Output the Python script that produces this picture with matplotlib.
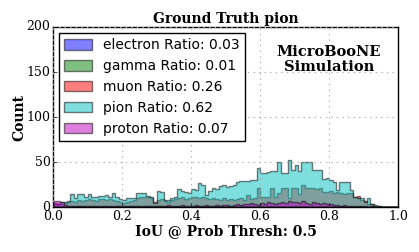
import numpy as np
import matplotlib
matplotlib.use("Agg")
import matplotlib.pyplot as plt

plt.style.use("classic")

bin_edges = np.linspace(0.0, 1.0, 101)

pion = [4, 4, 6, 6, 7, 15, 10, 15, 15, 12,
        15, 11, 11, 13, 13, 14, 12, 16, 12, 9,
        8, 10, 10, 10, 16, 16, 16, 13, 12, 5,
        18, 17, 8, 8, 10, 12, 20, 18, 17, 16,
        20, 19, 27, 25, 14, 18, 21, 20, 24, 25,
        23, 24, 25, 28, 29, 29, 29, 30, 30, 44,
        38, 38, 39, 40, 40, 50, 38, 38, 52, 41,
        47, 40, 50, 50, 50, 41, 41, 42, 32, 33,
        30, 28, 19, 28, 28, 28, 19, 12, 10, 10,
        6, 10, 4, 3, 1, 0, 0, 0, 0, 0]

muon = [5, 4, 4, 5, 6, 7, 6, 8, 7, 8,
        9, 8, 7, 9, 9, 8, 9, 8, 7, 6,
        5, 6, 7, 8, 10, 11, 12, 11, 10, 6,
        8, 9, 7, 6, 8, 9, 10, 11, 9, 10,
        11, 12, 10, 11, 10, 9, 10, 9, 8, 10,
        8, 9, 8, 9, 10, 8, 14, 9, 10, 21,
        12, 12, 12, 21, 12, 16, 21, 21, 10, 21,
        21, 15, 25, 22, 21, 21, 20, 21, 17, 17,
        18, 16, 17, 16, 15, 16, 16, 12, 13, 8,
        7, 4, 4, 2, 1, 0, 0, 0, 0, 0]

proton = [7, 7, 6, 3, 2, 2, 2, 1, 2, 2,
          2, 1, 2, 1, 2, 2, 1, 2, 1, 2,
          1, 2, 1, 2, 1, 2, 2, 1, 2, 1,
          2, 1, 2, 3, 1, 2, 2, 3, 2, 2,
          2, 3, 2, 2, 3, 2, 2, 3, 2, 3,
          3, 2, 3, 4, 3, 4, 4, 5, 4, 3,
          5, 4, 6, 5, 4, 5, 6, 5, 7, 6,
          6, 5, 7, 5, 4, 6, 5, 4, 5, 4,
          4, 3, 3, 2, 3, 2, 2, 1, 1, 1,
          1, 0, 1, 0, 0, 0, 0, 0, 0, 0]

electron = [2, 2, 1, 1, 1, 2, 1, 1, 1, 1,
            1, 1, 1, 0, 1, 1, 1, 0, 1, 1,
            1, 0, 1, 1, 1, 0, 1, 1, 1, 0,
            1, 1, 1, 1, 0, 1, 1, 1, 1, 1,
            1, 1, 1, 1, 1, 1, 2, 1, 1, 1,
            1, 1, 1, 2, 1, 1, 1, 2, 1, 1,
            2, 1, 1, 2, 1, 1, 2, 1, 1, 2,
            1, 1, 2, 1, 1, 1, 1, 1, 1, 1,
            1, 1, 1, 1, 1, 0, 1, 0, 0, 0,
            0, 0, 0, 0, 0, 0, 0, 0, 0, 0]

gamma = [1, 0, 0, 1, 0, 0, 0, 1, 0, 0,
         0, 1, 0, 0, 0, 1, 0, 0, 1, 0,
         0, 0, 1, 0, 0, 0, 1, 0, 0, 0,
         1, 0, 0, 0, 1, 0, 0, 1, 0, 0,
         0, 1, 0, 0, 1, 0, 0, 0, 1, 0,
         0, 1, 0, 0, 1, 0, 0, 1, 0, 0,
         1, 0, 0, 1, 0, 0, 1, 0, 0, 1,
         0, 0, 1, 0, 0, 1, 0, 0, 0, 1,
         0, 0, 1, 0, 0, 0, 0, 0, 0, 0,
         0, 0, 0, 0, 0, 0, 0, 0, 0, 0]

labels = ["electron Ratio: 0.03", "gamma Ratio: 0.01", "muon Ratio: 0.26",
          "pion Ratio: 0.62", "proton Ratio: 0.07"]
series = [electron, gamma, muon, pion, proton]
colors = ["b", "g", "r", "c", "m"]

fig = plt.figure(figsize=(4.19, 2.52), dpi=100, facecolor="white")
ax = fig.add_axes([0.127, 0.177, 0.823, 0.716])

centers = 0.5 * (bin_edges[:-1] + bin_edges[1:])
for vals, lab, col in zip(series, labels, colors):
    ax.hist(centers, bins=bin_edges, weights=vals, histtype="stepfilled",
            alpha=0.5, color=col, edgecolor="black", linewidth=1.0, label=lab)

ax.set_xlim(0.0, 1.0)
ax.set_ylim(0, 200)
ax.set_xticks([0.0, 0.2, 0.4, 0.6, 0.8, 1.0])
ax.set_yticks([0, 50, 100, 150, 200])
ax.grid(True, color="#b0b0b0", linestyle=":", linewidth=0.8)
for t in ax.get_xticklabels() + ax.get_yticklabels():
    t.set_family("DejaVu Serif")
    t.set_fontsize(9)
ax.tick_params(axis="both", which="major", pad=2, length=3)
ax.tick_params(top=False, right=False)

ax.set_title("Ground Truth pion", family="DejaVu Serif", fontweight="bold",
             fontsize=10, pad=3)
ax.set_xlabel("IoU @ Prob Thresh: 0.5", family="DejaVu Serif",
              fontweight="bold", fontsize=10, labelpad=1)
ax.set_ylabel("Count", family="DejaVu Serif", fontweight="bold", fontsize=10,
              labelpad=0)

ax.text(0.80, 0.82, "MicroBooNE\nSimulation", transform=ax.transAxes,
        ha="center", va="center", family="DejaVu Serif", fontweight="bold",
        fontsize=10.5, linespacing=1.1)

leg = ax.legend(loc="upper left", prop={"family": "DejaVu Sans", "size": 10},
                handlelength=2.0, handleheight=0.8, labelspacing=0.5,
                borderaxespad=0.4, fancybox=False)
leg.get_frame().set_edgecolor("black")

fig.savefig("out.png", dpi=100, facecolor="white")
